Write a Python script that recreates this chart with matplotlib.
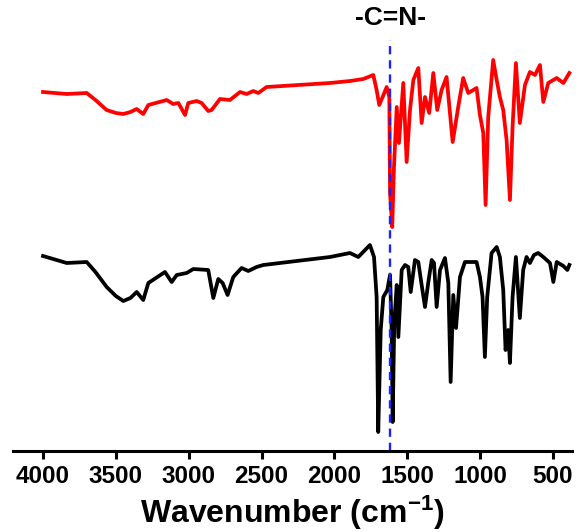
import matplotlib
matplotlib.use("Agg")
import matplotlib.pyplot as plt

# Red (top) spectrum: wavenumber (cm-1) and transmittance (arb. units)
red_w = [4000, 3837, 3700, 3640, 3563, 3500, 3449, 3400, 3357, 3312, 3277, 3151, 3106, 3071, 3025, 3003, 2945, 2911,
         2866, 2843, 2785, 2717, 2648, 2602, 2557, 2522, 2465, 2030, 1893, 1802, 1733, 1710, 1692,
         1669, 1641, 1623, 1618, 1603, 1591, 1572, 1557, 1527, 1504, 1481, 1458, 1424, 1401, 1378,
         1349, 1321, 1294, 1264, 1230, 1188, 1150, 1116, 1081, 1024, 1001, 978, 962, 944, 910,
         886, 864, 841, 818, 795, 777, 754, 727, 692, 658, 623, 589, 566, 532, 474, 428, 387]
red_t = [368, 366, 367, 360, 350, 347, 346, 348, 351, 346, 355, 360, 356, 357, 345, 357, 359, 357,
         349, 350, 361, 360, 368, 366, 369, 367, 373, 377, 379, 381, 385, 370, 355,
         363, 373, 363, 267, 233, 293, 353, 317, 377, 298, 350, 380, 392, 337, 363,
         347, 387, 350, 370, 383, 318, 353, 382, 367, 372, 345, 327, 255, 343, 400,
         380, 363, 350, 320, 260, 333, 397, 337, 375, 388, 385, 395, 358, 377, 382, 377, 387]

# Black (bottom) spectrum
black_w = [4000, 3837, 3700, 3640, 3563, 3500, 3449, 3400, 3357, 3312, 3277, 3163, 3117, 3082, 3014, 2968, 2866, 2831,
           2797, 2767, 2733, 2694, 2637, 2591, 2534, 2488, 2030, 1893, 1836, 1756, 1728, 1710, 1699,
           1682, 1664, 1637, 1618, 1607, 1600, 1589, 1572, 1561, 1538, 1515, 1493, 1476, 1447, 1424,
           1401, 1378, 1355, 1332, 1316, 1298, 1275, 1241, 1218, 1202, 1184, 1165, 1138, 1104, 1024,
           1001, 983, 967, 951, 921, 886, 864, 841, 825, 807, 795, 777, 754, 727, 704,
           681, 658, 630, 601, 566, 520, 497, 474, 428, 401, 387]
black_t = [204, 197, 198, 188, 173, 164, 159, 162, 168, 160, 177, 188, 178, 185, 187, 191, 190, 162,
           181, 177, 165, 183, 192, 189, 193, 195, 203, 207, 203, 215, 203, 163, 28,
           130, 163, 170, 185, 130, 38, 137, 175, 123, 190, 195, 193, 168, 200, 198,
           175, 153, 178, 200, 197, 153, 190, 202, 177, 78, 165, 132, 183, 198, 198,
           183, 163, 103, 163, 207, 213, 203, 170, 110, 130, 97, 163, 203, 142, 190,
           203, 197, 205, 207, 203, 197, 178, 198, 194, 190, 195]

x_ticks = [4000, 3500, 3000, 2500, 2000, 1500, 1000, 500]
cn_position = 1616
cn_label = "-C=N-"
x_label = r"Wavenumber (cm$^{\mathbf{-1}}$)"

plt.rcParams['font.family'] = ['Liberation Sans', 'DejaVu Sans']
plt.rcParams['mathtext.fontset'] = 'custom'
plt.rcParams['mathtext.bf'] = 'Liberation Sans:bold'
plt.rcParams['mathtext.rm'] = 'Liberation Sans:bold'
plt.rcParams['mathtext.default'] = 'bf'

fig = plt.figure(figsize=(5.79, 5.32), dpi=100)
ax = fig.add_axes([13/579, 81/532, 559/579, 411/532])

ax.plot(red_w, red_t, color='#ff0000', lw=2.7, solid_joinstyle='round')
ax.plot(black_w, black_t, color='black', lw=2.7, solid_joinstyle='round')
ax.axvline(cn_position, color='#2020ff', lw=1.7, linestyle=(0, (3.5, 2.5)))

ax.set_xlim(4206, 369)
ax.set_ylim(9, 420)

for s in ['top', 'left', 'right']:
    ax.spines[s].set_visible(False)
ax.spines['bottom'].set_linewidth(2.2)
ax.set_yticks([])
ax.set_xticks(x_ticks)
ax.set_xticklabels([str(t) for t in x_ticks], fontsize=17.5, fontweight='bold')
ax.tick_params(axis='x', direction='out', length=6, width=2.2, pad=4)

ax.set_xlabel(x_label, fontsize=23, fontweight='bold', labelpad=4)

ax.text(cn_position, 1.025, cn_label, transform=ax.get_xaxis_transform(),
        ha='center', va='bottom', fontsize=19, fontweight='bold')

fig.savefig("out.png", dpi=100)
